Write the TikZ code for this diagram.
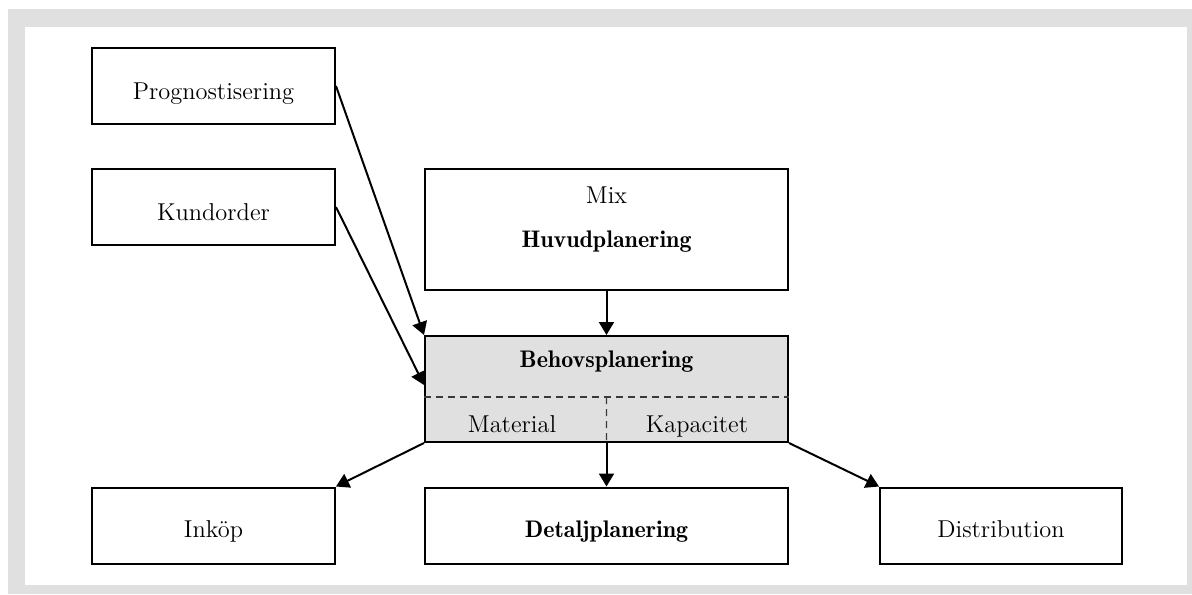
\documentclass[tikz,border=0pt]{standalone}
\usepackage{fontspec}
\newfontfamily\headfont{lmromandemi10-regular.otf}
\usetikzlibrary{arrows.meta,calc}
\definecolor{framegray}{HTML}{E0E0E0}
\definecolor{boxgray}{HTML}{E0E0E0}
\definecolor{dashgray}{HTML}{3A3A3A}
\tikzset{
  box/.style={draw=black, line width=1pt, rectangle, inner sep=0pt},
  smallbox/.style={box, minimum width=121.5pt, minimum height=38pt},
  widebox/.style={box, minimum width=181.5pt},
  label/.style={inner sep=0pt, anchor=base, font=\fontsize{12.2}{14}\selectfont},
  heading/.style={label, font=\headfont\fontsize{12}{14}\selectfont},
  flow/.style={draw=black, line width=1pt, -{Triangle[length=6.5pt,width=7.5pt]}},
  divider/.style={draw=dashgray, line width=0.7pt, dash pattern=on 3.5pt off 2.5pt}
}
\begin{document}
\begin{tikzpicture}[x=0.5pt, y=-0.5pt]
  % page frame
  \useasboundingbox (0,0) rectangle (1192,594);
  \fill[framegray] (8,9) rectangle (1192,594);
  \fill[white] (25,27) rectangle (1187,585);

  % input boxes
  \node[smallbox] (prog) at (213.5,86) {};
  \node[label] (progtxt) at (213.5,99) {Prognostisering};
  \node[smallbox] (kund) at (213.5,207) {};
  \node[label] (kundtxt) at (213.5,220) {Kundorder};

  % master planning
  \node[widebox, minimum height=60.5pt] (huvud) at (606.5,229.5) {};
  \node[label] (mix) at (606.5,203) {Mix};
  \node[heading] (huvudtxt) at (606.5,247) {Huvudplanering};

  % requirements planning
  \node[widebox, minimum height=53pt, fill=boxgray] (behov) at (606.5,389) {};
  \node[heading] (behovtxt) at (606.5,367) {Behovsplanering};
  \coordinate (dl) at ($(behov.north west)!0.575!(behov.south west)$);
  \coordinate (dr) at ($(behov.north east)!0.575!(behov.south east)$);
  \coordinate (dm) at ($(dl)!0.5!(dr)$);
  \draw[divider] (dl) -- (dr);
  \draw[divider] (dm) -- (behov.south);
  \node[label] (material) at (512,432) {Material};
  \node[label] (kapacitet) at (697,432) {Kapacitet};

  % output boxes
  \node[smallbox] (inkop) at (213.5,525.5) {};
  \node[label] (inkoptxt) at (213.5,537.5) {Inköp};
  \node[widebox, minimum height=38pt] (detalj) at (606.5,525.5) {};
  \node[heading] (detaljtxt) at (606.5,537.5) {Detaljplanering};
  \node[smallbox, minimum width=121pt] (distr) at (1001,525.5) {};
  \node[label] (distrtxt) at (1001,537.5) {Distribution};

  % connectors
  \draw[flow] (prog.east) -- (behov.north west);
  \draw[flow] (kund.east) -- ($(behov.west)+(0,-4)$);
  \draw[flow] (huvud.south) -- (behov.north);
  \draw[flow] (behov.south west) -- (inkop.north east);
  \draw[flow] (behov.south) -- (detalj.north);
  \draw[flow] (behov.south east) -- (distr.north west);
\end{tikzpicture}
\end{document}
